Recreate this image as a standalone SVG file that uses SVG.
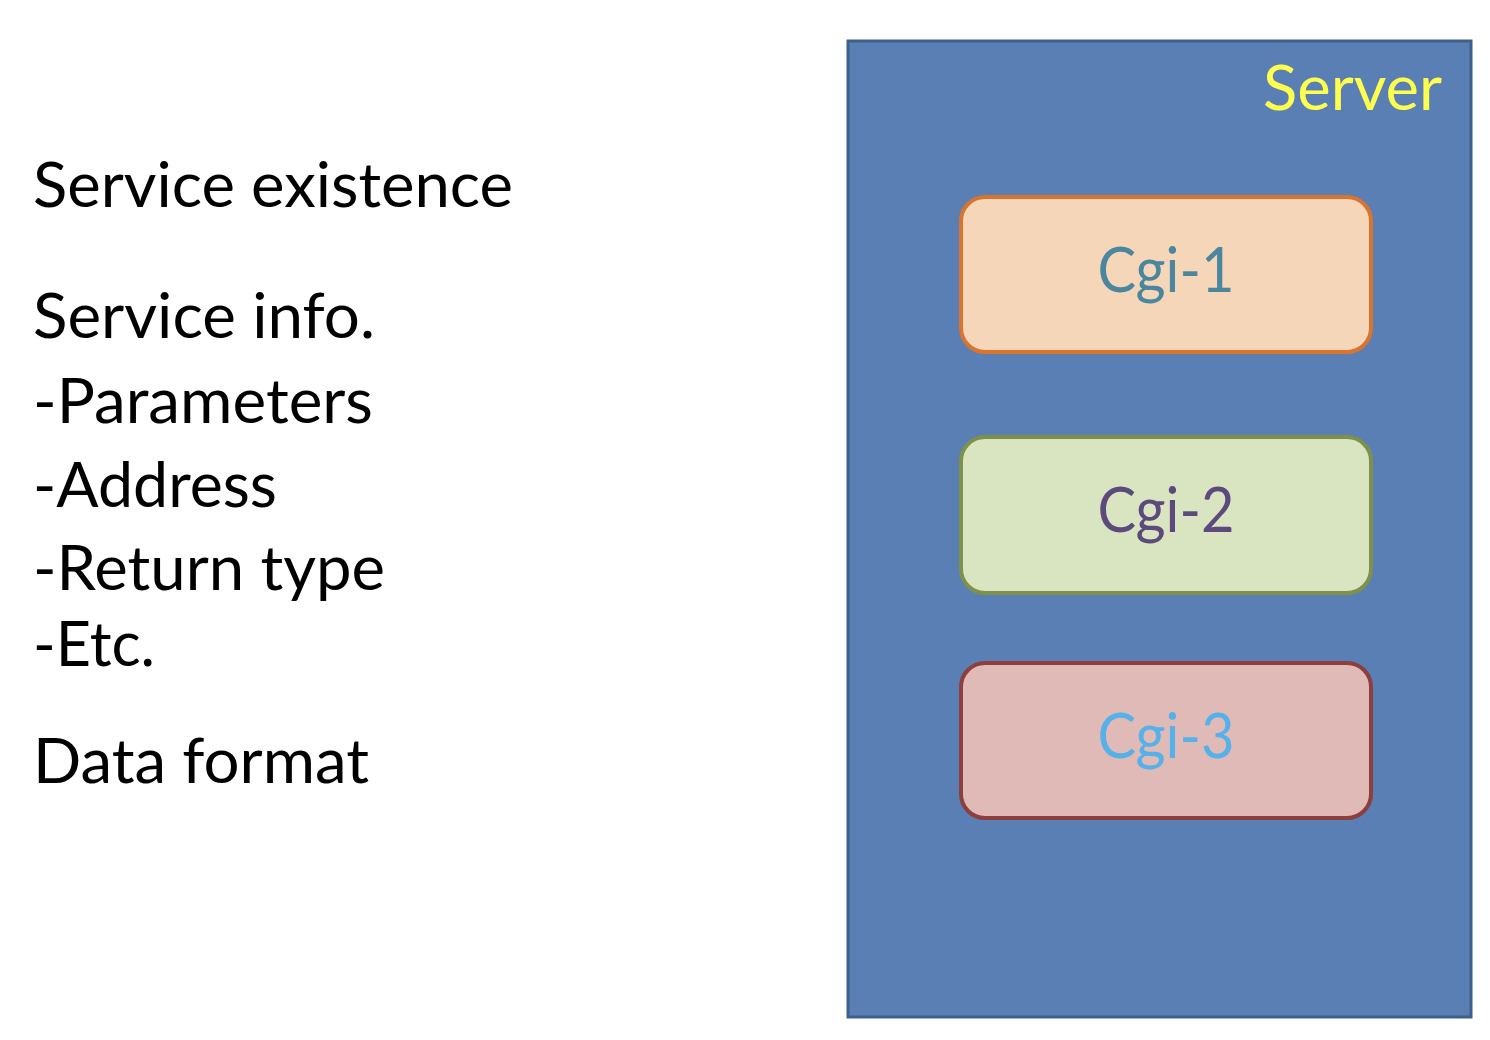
<svg xmlns="http://www.w3.org/2000/svg" width="1490" height="1040" viewBox="0 0 1490 1040">
<style>
.t{font-family:Lato,"Open Sans","Liberation Sans",sans-serif;font-size:62px;fill:#000}
.c{font-family:Lato,"Open Sans","Liberation Sans",sans-serif;font-size:62px;text-anchor:middle}
.box{stroke-width:4}
</style>
<rect width="1490" height="1040" fill="#fff"/>
<g id="labels">
<text class="t" x="33" y="207" textLength="480" lengthAdjust="spacingAndGlyphs">Service existence</text>
<text class="t" x="33" y="338" textLength="342" lengthAdjust="spacingAndGlyphs">Service info.</text>
<text class="t" x="33" y="423" textLength="340" lengthAdjust="spacingAndGlyphs">-Parameters</text>
<text class="t" x="33" y="507" textLength="244" lengthAdjust="spacingAndGlyphs">-Address</text>
<text class="t" x="33" y="590" textLength="352" lengthAdjust="spacingAndGlyphs">-Return type</text>
<text class="t" x="33" y="666" textLength="122" lengthAdjust="spacingAndGlyphs">-Etc.</text>
<text class="t" x="33" y="783" textLength="336" lengthAdjust="spacingAndGlyphs">Data format</text>
</g>
<g id="server">
<rect x="848" y="41" width="623" height="976" fill="#5a7fb5" stroke="#3f5f8c" stroke-width="3"/>
<text x="1442" y="110" font-family="Lato,'Open Sans','Liberation Sans',sans-serif" font-size="62" fill="#ffff4d" text-anchor="end" textLength="179" lengthAdjust="spacingAndGlyphs">Server</text>
</g>
<g id="cgi1">
<rect class="box" x="961" y="197" width="410" height="155" rx="24" fill="#f5d6b8" stroke="#d9742f"/>
<text class="c" x="1166" y="292" fill="#4a869e" textLength="137" lengthAdjust="spacingAndGlyphs">Cgi-1</text>
</g>
<g id="cgi2">
<rect class="box" x="961" y="437" width="410" height="156" rx="24" fill="#d9e5c1" stroke="#7e914a"/>
<text class="c" x="1166" y="532" fill="#5c4a7c" textLength="137" lengthAdjust="spacingAndGlyphs">Cgi-2</text>
</g>
<g id="cgi3">
<rect class="box" x="961" y="663" width="410" height="155" rx="24" fill="#dfbab7" stroke="#8c3f3c"/>
<text class="c" x="1166" y="758" fill="#56b1ea" textLength="137" lengthAdjust="spacingAndGlyphs">Cgi-3</text>
</g>
<g id="connectors"></g>
</svg>
